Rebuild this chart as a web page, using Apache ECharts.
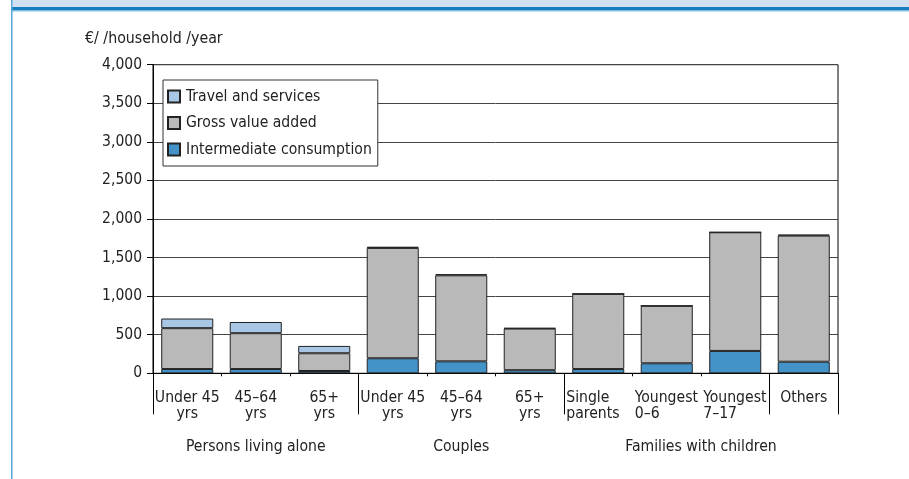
<!DOCTYPE html>
<html>
<head>
<meta charset="utf-8">
<script src="https://cdn.jsdelivr.net/npm/echarts@6/dist/echarts.min.js"></script>
<style>
html, body { margin: 0; padding: 0; background: #fff; }
#chart { width: 909px; height: 479px; }
</style>
</head>
<body>
<div id="chart"></div>
<script>
// household types, grouped
const categories = ['Under 45\nyrs', '45–64\nyrs', '65+\nyrs', 'Under 45\nyrs', '45–64\nyrs', '65+\nyrs', 'Single\nparents', 'Youngest\n0–6', 'Youngest\n7–17', 'Others']
const leftAligned = [6, 7, 8]
const groups = ['Persons living alone', 'Couples', 'Families with children']
const groupCentres = [1.5, 4.5, 8]
const groupBreaks = [0, 3, 6, 9, 10]

// €/household/year
const intermediate = [55, 55, 30, 195, 155, 40, 55, 130, 290, 150]
const grossValue = [530, 465, 230, 1430, 1115, 540, 975, 745, 1538, 1635]
const travel = [125, 145, 95, 15, 15, 7, 0, 0, 0, 12]

const TEXT = '#222'

// pick a narrow face if one is installed, then size text so widths match the original
const ctx = document.createElement('canvas').getContext('2d')
const widthOf = (s, size, fam) => { ctx.font = size + 'px ' + fam; return ctx.measureText(s).width }
const hasFont = (name) => {
    const probe = 'abcdefghijklmnopqrstuvwxyz 0123456789'
    return widthOf(probe, 40, '"' + name + '", monospace') !== widthOf(probe, 40, 'monospace')
        || widthOf(probe, 40, '"' + name + '", serif') !== widthOf(probe, 40, 'serif')
}
const candidates = ['Liberation Sans Narrow', 'DejaVu Sans Condensed', 'Roboto Condensed', 'Noto Sans']
const FONT = '"' + (candidates.find(hasFont) || 'Noto Sans') + '", sans-serif'
const fit = (s, target) => Math.round(10 * 20 * target / widthOf(s, 20, FONT)) / 10

const LABEL_SIZE = fit('Persons living alone', 140)
const LEGEND_SIZE = fit('Intermediate consumption', 186)
const TICK_SIZE = fit('4,000', 40)
const TITLE_SIZE = fit('€/ /household /year', 138)

const labelFormatter = (value, idx) => {
    if (leftAligned.indexOf(idx) < 0) return value
    return value.split('\n').map(l => '{l|' + l + '}').join('\n')
}
const blockWidth = Math.max(...leftAligned.map(i => Math.max(...categories[i].split('\n').map(l => Math.ceil(widthOf(l, LABEL_SIZE, FONT))))))

const chart = echarts.init(document.getElementById('chart'))

const barSeries = (name, data, color) => ({
    name: name,
    type: 'bar',
    stack: 'total',
    barWidth: '76%',
    data: data,
    itemStyle: { color: color, borderColor: '#222', borderWidth: 1 },
    emphasis: { disabled: true }
})

chart.setOption({
    animation: false,
    textStyle: { fontFamily: FONT, color: TEXT },
    graphic: [
        { type: 'rect', z: 100, shape: { x: 12, y: 0, width: 897, height: 7 }, style: { fill: '#cfe0f1' } },
        { type: 'rect', z: 100, shape: { x: 12, y: 7, width: 897, height: 3 }, style: { fill: '#1a7cbd' } },
        { type: 'rect', z: 100, shape: { x: 12, y: 10, width: 897, height: 1.5 }, style: { fill: '#7fbfe4' } },
        { type: 'rect', z: 100, shape: { x: 11, y: 0, width: 1.5, height: 479 }, style: { fill: '#55a9da' } }
    ],
    title: {
        text: '€/ /household /year',
        left: 80,
        top: 26,
        textStyle: { fontFamily: FONT, fontSize: TITLE_SIZE, fontWeight: 'normal', color: TEXT }
    },
    legend: {
        data: ['Travel and services', 'Gross value added', 'Intermediate consumption'],
        orient: 'vertical',
        left: 163,
        top: 80,
        padding: [7, 6, 7, 4],
        itemWidth: 12,
        itemHeight: 12,
        itemGap: 7.5,
        icon: 'rect',
        selectedMode: false,
        backgroundColor: '#fff',
        borderColor: '#333',
        borderWidth: 1,
        textStyle: { fontFamily: FONT, fontSize: LEGEND_SIZE, lineHeight: 19, color: TEXT, padding: [0, 0, 0, 1] }
    },
    grid: {
        left: 153,
        right: 71,
        top: 64.7,
        bottom: 105.7,
        show: true,
        borderColor: '#000',
        borderWidth: 1,
        backgroundColor: 'transparent'
    },
    xAxis: [
        {
            type: 'category',
            data: categories,
            axisLine: { lineStyle: { color: '#000', width: 1 } },
            axisTick: { show: true, interval: 0, length: 3, lineStyle: { color: '#000' } },
            axisLabel: {
                interval: 0,
                margin: 16.5,
                fontFamily: FONT,
                fontSize: LABEL_SIZE,
                lineHeight: 16,
                color: TEXT,
                formatter: labelFormatter,
                rich: { l: { width: blockWidth, align: 'left', fontFamily: FONT, fontSize: LABEL_SIZE, lineHeight: 16, color: TEXT } }
            }
        },
        {
            type: 'value',
            position: 'bottom',
            min: 0,
            max: 10,
            axisLine: { show: false },
            splitLine: { show: false },
            axisTick: { show: true, customValues: groupBreaks, length: 41, lineStyle: { color: '#000', width: 1 } },
            axisLabel: {
                customValues: groupCentres,
                margin: 66,
                fontFamily: FONT,
                fontSize: LABEL_SIZE,
                lineHeight: 16,
                color: TEXT,
                formatter: (v) => groups[groupCentres.indexOf(v)]
            }
        }
    ],
    yAxis: {
        type: 'value',
        min: 0,
        max: 4000,
        interval: 500,
        axisLine: { show: true, lineStyle: { color: '#000' } },
        axisTick: { show: true, length: 6, lineStyle: { color: '#000' } },
        splitLine: { lineStyle: { color: '#444', width: 1 } },
        axisLabel: {
            margin: 11,
            fontFamily: FONT,
            fontSize: TICK_SIZE,
            color: TEXT,
            formatter: (v) => v.toLocaleString('en-US')
        }
    },
    series: [
        barSeries('Intermediate consumption', intermediate, '#4393c9'),
        barSeries('Gross value added', grossValue, '#b9b9b9'),
        barSeries('Travel and services', travel, '#a8c7e5')
    ]
})
</script>
</body>
</html>
